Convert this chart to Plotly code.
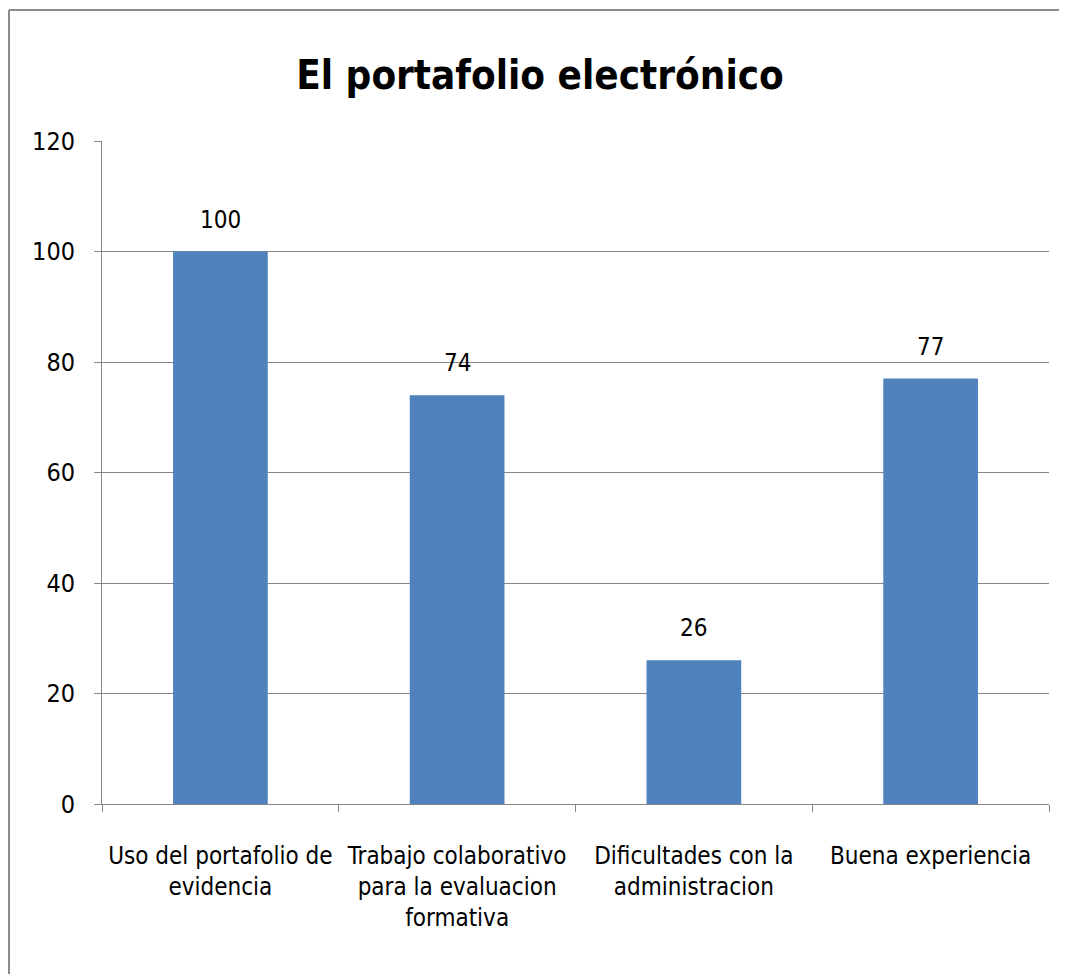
import plotly.graph_objects as go

categories = [
    "Uso del portafolio de<br>evidencia",
    "Trabajo colaborativo<br>para la evaluacion<br>formativa",
    "Dificultades con la<br>administracion",
    "Buena experiencia",
]
values = [100, 74, 26, 77]
y_ticks = [0, 20, 40, 60, 80, 100, 120]
title_text = "El portafolio electrónico"

FONT = "Liberation Sans Narrow, DejaVu Sans Condensed, Arial Narrow, sans-serif"

fig = go.Figure()
fig.add_trace(go.Bar(
    x=categories, y=values,
    marker=dict(color="#4F81BD", line=dict(width=0)),
    width=0.4,
    hoverinfo="x+y",
))

for c, v in zip(categories, values):
    fig.add_annotation(x=c, y=v, text=str(v), showarrow=False, yshift=32,
                       font=dict(family=FONT, size=24, color="#000000"))

# page body has an 8px margin, so figure coords = screen coords - 8
W, H = 1059, 966
L, R, T, B = 94, 18, 133, 170
pw, ph = W - L - R, H - T - B

def px(x):
    return (x - L) / pw

def py(y):
    return (H - B - y) / ph

# outer chart border (left and top visible)
fig.add_shape(type="line", xref="paper", yref="paper",
              x0=px(1), x1=px(1), y0=py(2), y1=py(H + 20),
              line=dict(color="#8C8C8C", width=2))
fig.add_shape(type="line", xref="paper", yref="paper",
              x0=px(1), x1=px(W + 20), y0=py(2), y1=py(2),
              line=dict(color="#8C8C8C", width=2))

fig.update_layout(
    width=W, height=H,
    margin=dict(l=L, r=R, t=T, b=B, autoexpand=False),
    paper_bgcolor="white", plot_bgcolor="white",
    showlegend=False,
    title=dict(text="<b>" + title_text + "</b>", x=532 / W, xanchor="center",
               y=1 - 67 / H, yanchor="middle",
               font=dict(family=FONT, size=40, color="#000000")),
    font=dict(family=FONT, size=24, color="#000000"),
    bargap=0.6,
)
fig.update_xaxes(
    type="category", showline=True, linecolor="#868686", linewidth=1,
    ticks="outside", tickson="boundaries", ticklen=7, tickcolor="#868686",
    tickfont=dict(family=FONT, size=24, color="#000000"),
    ticklabelstandoff=30,
    showgrid=False, fixedrange=True,
)
fig.update_yaxes(
    range=[0, 120], tickvals=y_ticks, showline=True, linecolor="#868686",
    linewidth=1, ticks="outside", ticklen=7, tickcolor="#868686",
    showgrid=True, gridcolor="#868686", gridwidth=1,
    zeroline=False, tickfont=dict(family=FONT, size=25, color="#000000"),
    ticklabelstandoff=14,
    fixedrange=True,
)

fig.write_html("out.html")
